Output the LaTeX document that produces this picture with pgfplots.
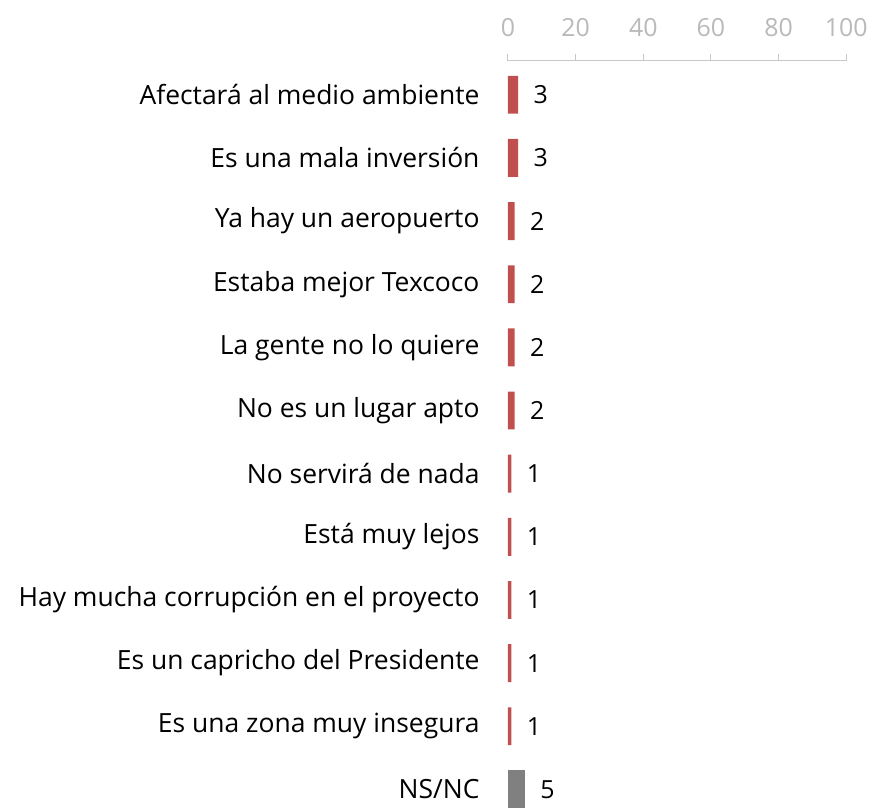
\documentclass[border=0pt]{standalone}
\usepackage{pgfplots}
\pgfplotsset{compat=1.18}
\usepackage{fontspec}
\setmainfont{Open Sans}
\definecolor{barred}{RGB}{192,80,77}
\definecolor{bargray}{RGB}{128,128,128}
\definecolor{axgray}{RGB}{200,200,200}
\definecolor{ticklab}{RGB}{185,185,185}
\begin{document}
\begin{tikzpicture}
\begin{axis}[
    name=ax, at={(0,0)}, anchor=south west,
    scale only axis, width=339pt, height=749pt,
    xbar, bar width=38pt, bar shift=0pt,
    xmin=0, xmax=100, ymin=-0.537, ymax=11.3, y dir=reverse,
    axis x line*=top, axis y line*=left,
    y axis line style={draw=none},
    x axis line style={draw=axgray, line width=1pt},
    xtick={0,20,...,100},
    xtick align=outside, major tick length=7pt,
    xtick style={draw=axgray, line width=1pt},
    ytick style={draw=none},
    xticklabel style={font=\fontsize{25}{29}\selectfont, text=ticklab, yshift=14pt},
    /pgf/number format/assume math mode=true,
    ytick={0,...,11},
    yticklabels={Afectará al medio ambiente, Es una mala inversión, Ya hay un aeropuerto, Estaba mejor Texcoco, La gente no lo quiere, No es un lugar apto, No servirá de nada, Está muy lejos, Hay mucha corrupción en el proyecto, Es un capricho del Presidente, Es una zona muy insegura, NS/NC},
    yticklabel style={font=\fontsize{26.5}{31}\selectfont, text=black, xshift=-18pt},
    nodes near coords,
    nodes near coords style={anchor=west, font=\fontsize{25}{29}\selectfont, text=black, xshift=12pt},
    point meta=x,
]
\addplot[fill=barred, draw=none] coordinates {
    (3,0) (3,1) (2,2) (2,3) (2,4) (2,5) (1,6) (1,7) (1,8) (1,9) (1,10)
};
\addplot[fill=bargray, draw=none] coordinates {
    (5,11)
};
\end{axis}
\path (-509pt,-3pt) rectangle (362pt,810pt);
\end{tikzpicture}
\end{document}
